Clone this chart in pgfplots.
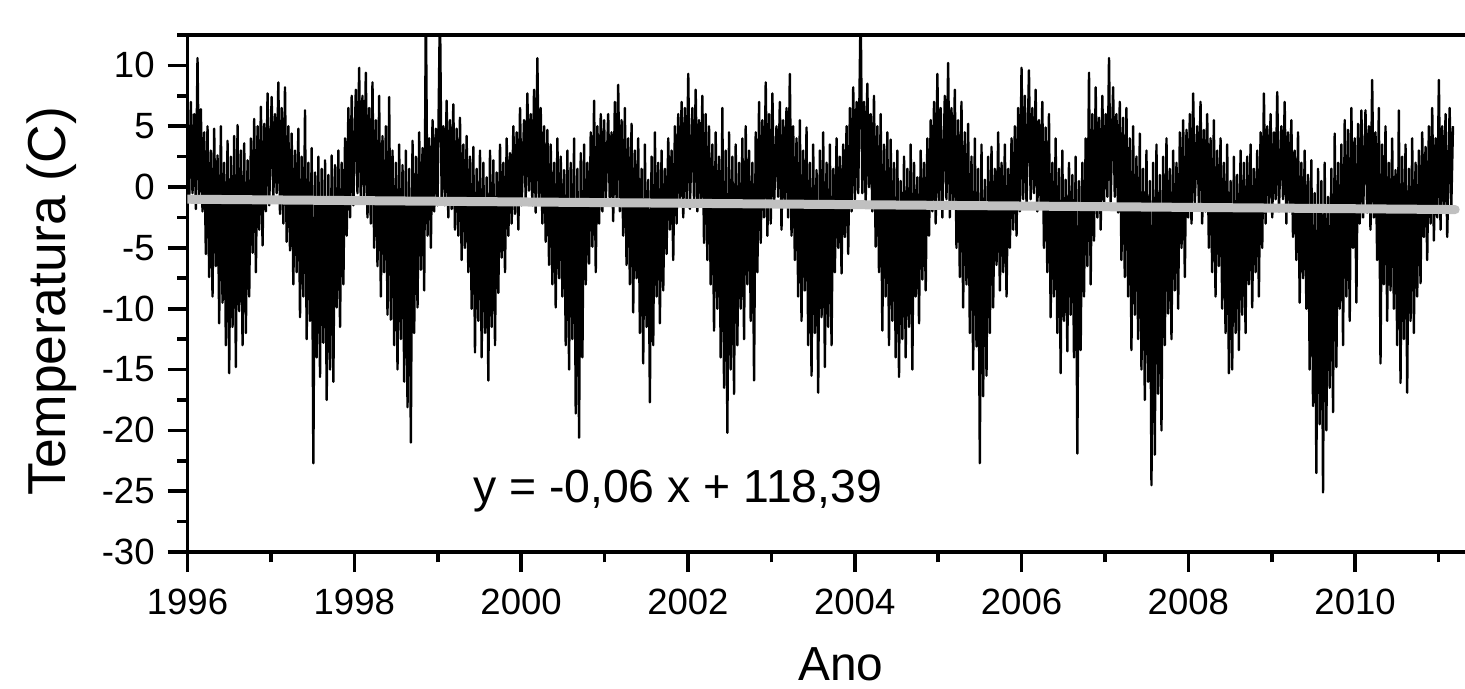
\documentclass[border=0pt]{standalone}
\usepackage{fontspec}
\setmainfont{Liberation Sans}
\usepackage{pgfplots}
\pgfplotsset{compat=1.18}
\definecolor{trendgray}{RGB}{192,192,192}

\begin{document}
\begin{tikzpicture}
\begin{axis}[
    scale only axis,
    width=326.625mm, height=129.25mm,
    xmin=1996, xmax=2011.665,
    ymin=-30, ymax=12.5,
    xtick={1996,1998,...,2010},
    minor xtick={1997,1999,...,2011},
    ytick={-30,-25,...,10},
    minor ytick={-27.5,-22.5,...,12.5},
    tick pos=left,
    tick align=outside,
    major tick length=5mm,
    minor tick length=2.6mm,
    every tick/.style={black, line width=0.9mm},
    axis line style={line width=0.9mm},
    /pgf/number format/assume math mode=true,
    /pgf/number format/1000 sep={},
    tick label style={font=\fontsize{26}{31}\selectfont},
    xticklabel style={yshift=-3.1mm},
    yticklabel style={xshift=-2mm},
    xlabel={Ano},
    ylabel={Temperatura (C)},
    xlabel style={at={(axis description cs:0.5,-0.248)}, anchor=base,
        font=\fontsize{34}{41}\selectfont},
    ylabel style={at={(axis description cs:-0.093,0.485)}, anchor=base,
        rotate=0, font=\fontsize{38}{45}\selectfont},
]
% daily temperature (envelope)
\addplot[black, line width=0.6mm, line join=round] coordinates {
(1996.00,4.5) (1996.02,-1.2) (1996.04,7.0) (1996.06,-0.5) (1996.08,6.0) (1996.10,-1.8) (1996.12,10.6) (1996.14,-1.0) (1996.16,6.4) (1996.18,-2.0)
(1996.20,4.5) (1996.22,-5.5) (1996.24,5.0) (1996.26,-7.4) (1996.28,3.0) (1996.30,-9.0) (1996.32,4.8) (1996.34,-6.5) (1996.36,2.6) (1996.38,-11.2)
(1996.40,5.0) (1996.42,-9.5) (1996.44,2.0) (1996.46,-13.0) (1996.48,3.8) (1996.50,-15.3) (1996.52,2.5) (1996.54,-11.5) (1996.56,4.2) (1996.58,-14.8)
(1996.60,5.1) (1996.62,-10.2) (1996.64,3.0) (1996.66,-13.0) (1996.68,3.6) (1996.70,-12.0) (1996.72,2.2) (1996.74,-9.0) (1996.76,4.0) (1996.78,-5.4)
(1996.80,5.6) (1996.82,-7.0) (1996.84,5.0) (1996.86,-3.5) (1996.88,6.6) (1996.90,-4.8) (1996.92,5.2) (1996.94,-2.0) (1996.96,7.7) (1996.98,-1.5)
(1997.009,7.4) (1997.029,-1.0) (1997.049,6.0) (1997.069,-0.5) (1997.089,8.6) (1997.109,-2.2) (1997.129,6.5) (1997.149,-3.0) (1997.169,8.2) (1997.189,-4.5)
(1997.209,5.0) (1997.229,-5.2) (1997.249,4.4) (1997.269,-8.0) (1997.289,3.0) (1997.309,-7.0) (1997.329,4.8) (1997.349,-10.7) (1997.369,2.5) (1997.389,-9.0)
(1997.409,6.3) (1997.429,-12.5) (1997.449,2.0) (1997.469,-11.0) (1997.489,3.2) (1997.509,-22.7) (1997.529,1.2) (1997.549,-14.0) (1997.569,2.5) (1997.589,-15.6)
(1997.609,1.5) (1997.629,-12.8) (1997.649,2.2) (1997.669,-17.5) (1997.689,1.0) (1997.709,-15.0) (1997.729,2.6) (1997.749,-16.0) (1997.769,1.8) (1997.789,-9.9)
(1997.809,3.0) (1997.829,-11.5) (1997.849,2.0) (1997.869,-8.0) (1997.889,4.0) (1997.909,-4.0) (1997.929,6.5) (1997.949,-2.5) (1997.969,7.5) (1997.989,-1.5)
(1998.018,8.0) (1998.038,-0.5) (1998.058,9.8) (1998.078,-1.2) (1998.098,7.5) (1998.118,-0.8) (1998.138,9.4) (1998.158,-2.5) (1998.178,6.5) (1998.198,-3.0)
(1998.218,8.6) (1998.238,-5.0) (1998.258,5.5) (1998.278,-6.5) (1998.298,7.5) (1998.318,-9.0) (1998.338,4.2) (1998.358,-7.0) (1998.378,5.0) (1998.398,-10.5)
(1998.418,7.4) (1998.438,-10.9) (1998.458,3.0) (1998.478,-13.0) (1998.498,2.0) (1998.518,-15.0) (1998.538,3.5) (1998.558,-12.5) (1998.578,1.8) (1998.598,-16.0)
(1998.618,3.0) (1998.638,-18.1) (1998.658,1.5) (1998.678,-21.0) (1998.698,3.8) (1998.718,-12.0) (1998.738,2.5) (1998.758,-9.9) (1998.778,4.5) (1998.798,-6.8)
(1998.818,3.2) (1998.838,-8.5) (1998.858,15) (1998.878,-4.0) (1998.898,4.0) (1998.918,-5.0) (1998.938,5.5) (1998.958,-2.0) (1998.978,4.8) (1998.998,-1.5)
(1999.027,15) (1999.047,-0.8) (1999.067,5.0) (1999.087,-1.5) (1999.107,7.1) (1999.127,-2.5) (1999.147,5.5) (1999.167,-1.8) (1999.187,6.8) (1999.207,-3.5)
(1999.227,4.8) (1999.247,-4.0) (1999.267,5.7) (1999.287,-6.0) (1999.307,3.5) (1999.327,-5.0) (1999.347,4.2) (1999.367,-7.0) (1999.387,2.5) (1999.407,-10.0)
(1999.427,3.3) (1999.447,-13.6) (1999.467,1.5) (1999.487,-11.0) (1999.507,3.0) (1999.527,-14.0) (1999.547,2.0) (1999.567,-12.0) (1999.587,0.8) (1999.607,-15.9)
(1999.627,3.0) (1999.647,-11.5) (1999.667,2.2) (1999.687,-13.0) (1999.707,1.2) (1999.727,-8.7) (1999.747,3.5) (1999.767,-5.8) (1999.787,2.0) (1999.807,-7.0)
(1999.827,4.0) (1999.847,-4.0) (1999.867,2.8) (1999.887,-3.0) (1999.907,5.0) (1999.927,-2.2) (1999.947,4.5) (1999.967,-3.5) (1999.987,6.5) (2000.007,-1.5)
(2000.035,5.5) (2000.055,-1.0) (2000.075,7.7) (2000.095,-0.3) (2000.115,6.0) (2000.135,-1.5) (2000.155,8.0) (2000.175,-2.1) (2000.195,10.6) (2000.215,-1.2)
(2000.235,6.5) (2000.255,-3.0) (2000.275,5.0) (2000.295,-4.5) (2000.315,4.7) (2000.335,-6.4) (2000.355,3.5) (2000.375,-8.0) (2000.395,2.0) (2000.415,-9.9)
(2000.435,4.0) (2000.455,-7.5) (2000.475,2.5) (2000.495,-9.0) (2000.515,1.4) (2000.535,-13.0) (2000.555,3.0) (2000.575,-15.0) (2000.595,2.0) (2000.615,-12.5)
(2000.635,4.0) (2000.655,-18.6) (2000.675,1.5) (2000.695,-20.6) (2000.715,2.8) (2000.735,-14.0) (2000.755,3.5) (2000.775,-8.0) (2000.795,2.0) (2000.815,-6.3)
(2000.835,4.5) (2000.855,-4.9) (2000.875,7.1) (2000.895,-7.0) (2000.915,5.0) (2000.935,-3.0) (2000.955,6.0) (2000.975,-2.0) (2000.995,5.5) (2001.015,-1.2)
(2001.044,6.0) (2001.064,-1.5) (2001.084,4.5) (2001.104,-2.8) (2001.124,7.0) (2001.144,-1.0) (2001.164,8.4) (2001.184,-2.0) (2001.204,5.5) (2001.224,-4.0)
(2001.244,6.5) (2001.264,-6.4) (2001.284,4.0) (2001.304,-8.0) (2001.324,5.2) (2001.344,-10.3) (2001.364,3.0) (2001.384,-7.5) (2001.404,4.0) (2001.424,-12.0)
(2001.444,1.5) (2001.464,-14.5) (2001.484,3.5) (2001.504,-11.5) (2001.524,0.6) (2001.544,-17.7) (2001.564,2.5) (2001.584,-13.0) (2001.604,4.5) (2001.624,-9.0)
(2001.644,2.0) (2001.664,-11.2) (2001.684,3.0) (2001.704,-8.5) (2001.724,1.5) (2001.744,-5.5) (2001.764,4.0) (2001.784,-3.5) (2001.804,3.0) (2001.824,-6.0)
(2001.844,5.0) (2001.864,-3.0) (2001.884,6.0) (2001.904,-1.5) (2001.924,7.0) (2001.944,-2.5) (2001.964,6.5) (2001.984,-1.0) (2002.004,9.3) (2002.024,-1.8)
(2002.053,6.5) (2002.073,-1.0) (2002.093,8.0) (2002.113,-2.0) (2002.133,5.5) (2002.153,-1.5) (2002.173,7.5) (2002.193,-4.6) (2002.213,6.0) (2002.233,-6.0)
(2002.253,5.0) (2002.273,-8.0) (2002.293,3.5) (2002.313,-11.8) (2002.333,4.5) (2002.353,-10.0) (2002.373,2.5) (2002.393,-14.0) (2002.413,6.5) (2002.433,-16.5)
(2002.453,3.0) (2002.473,-20.2) (2002.493,4.5) (2002.513,-15.0) (2002.533,2.5) (2002.553,-17.0) (2002.573,3.5) (2002.593,-13.0) (2002.613,2.0) (2002.633,-10.0)
(2002.653,4.0) (2002.673,-12.5) (2002.693,5.0) (2002.713,-8.0) (2002.733,3.0) (2002.753,-11.0) (2002.773,2.0) (2002.793,-15.9) (2002.813,4.5) (2002.833,-7.0)
(2002.853,7.0) (2002.873,-4.6) (2002.893,5.5) (2002.913,-2.5) (2002.933,8.6) (2002.953,-4.0) (2002.973,6.0) (2002.993,-3.0) (2003.013,7.7) (2003.033,-1.5)
(2003.062,5.0) (2003.082,-0.8) (2003.102,7.0) (2003.122,-3.5) (2003.142,5.5) (2003.162,-1.5) (2003.182,6.5) (2003.202,-2.5) (2003.222,9.3) (2003.242,-4.0)
(2003.262,5.0) (2003.282,-6.0) (2003.302,4.0) (2003.322,-9.0) (2003.342,5.5) (2003.362,-11.0) (2003.382,3.0) (2003.402,-8.5) (2003.422,4.9) (2003.442,-13.0)
(2003.462,2.0) (2003.482,-15.5) (2003.502,3.5) (2003.522,-12.0) (2003.542,1.4) (2003.562,-16.9) (2003.582,3.0) (2003.602,-10.7) (2003.622,4.5) (2003.642,-14.8)
(2003.662,2.0) (2003.682,-11.5) (2003.702,3.5) (2003.722,-13.0) (2003.742,1.5) (2003.762,-7.0) (2003.782,4.0) (2003.802,-5.0) (2003.822,2.5) (2003.842,-7.1)
(2003.862,3.5) (2003.882,-4.1) (2003.902,5.0) (2003.922,-5.5) (2003.942,6.5) (2003.962,-2.0) (2003.982,8.2) (2004.002,-1.0) (2004.022,7.0) (2004.042,-0.5)
(2004.071,15) (2004.091,-0.5) (2004.111,7.0) (2004.131,-1.5) (2004.151,8.5) (2004.171,0.0) (2004.191,6.0) (2004.211,-2.0) (2004.231,7.5) (2004.251,-4.9)
(2004.271,5.0) (2004.291,-7.0) (2004.311,6.0) (2004.331,-11.8) (2004.351,3.5) (2004.371,-9.0) (2004.391,4.5) (2004.411,-13.0) (2004.431,3.9) (2004.451,-11.0)
(2004.471,2.0) (2004.491,-14.0) (2004.511,3.0) (2004.531,-15.6) (2004.551,0.5) (2004.571,-12.5) (2004.591,2.5) (2004.611,-14.0) (2004.631,1.5) (2004.651,-11.5)
(2004.671,3.5) (2004.691,-15.0) (2004.711,2.0) (2004.731,-9.0) (2004.751,0.8) (2004.771,-11.2) (2004.791,3.0) (2004.811,-7.6) (2004.831,2.0) (2004.851,-8.5)
(2004.871,4.0) (2004.891,-4.0) (2004.911,5.5) (2004.931,-2.0) (2004.951,7.0) (2004.971,-3.0) (2004.991,9.3) (2005.011,-1.5) (2005.031,6.5) (2005.051,-2.5)
(2005.080,7.5) (2005.100,-1.0) (2005.120,10.2) (2005.140,-2.5) (2005.160,6.5) (2005.180,-1.5) (2005.200,8.0) (2005.220,-5.0) (2005.240,5.5) (2005.260,-7.4)
(2005.280,7.0) (2005.300,-9.9) (2005.320,4.5) (2005.340,-8.0) (2005.360,5.2) (2005.380,-12.0) (2005.400,2.5) (2005.420,-15.0) (2005.440,4.0) (2005.460,-13.1)
(2005.480,1.5) (2005.500,-22.7) (2005.520,3.5) (2005.540,-17.2) (2005.560,0.6) (2005.580,-15.5) (2005.600,2.5) (2005.620,-12.0) (2005.640,3.3) (2005.660,-9.9)
(2005.680,1.5) (2005.700,-6.4) (2005.720,4.5) (2005.740,-8.5) (2005.760,2.0) (2005.780,-7.0) (2005.800,3.5) (2005.820,-9.0) (2005.840,1.5) (2005.860,-5.0)
(2005.880,4.0) (2005.900,-3.5) (2005.920,5.0) (2005.940,-4.0) (2005.960,6.5) (2005.980,-2.0) (2006.000,9.8) (2006.020,-1.0) (2006.040,7.5) (2006.060,-1.5)
(2006.089,9.6) (2006.109,-1.0) (2006.129,6.5) (2006.149,-0.5) (2006.169,8.0) (2006.189,-2.0) (2006.209,5.5) (2006.229,-1.5) (2006.249,7.0) (2006.269,-5.0)
(2006.289,4.9) (2006.309,-7.0) (2006.329,6.0) (2006.349,-10.7) (2006.369,2.0) (2006.389,-9.0) (2006.409,4.0) (2006.429,-12.0) (2006.449,1.5) (2006.469,-15.3)
(2006.489,3.0) (2006.509,-11.0) (2006.529,0.6) (2006.549,-13.5) (2006.569,2.0) (2006.589,-10.5) (2006.609,1.0) (2006.629,-14.0) (2006.649,2.5) (2006.669,-21.9)
(2006.689,0.5) (2006.709,-13.4) (2006.729,2.0) (2006.749,-9.0) (2006.769,4.0) (2006.789,-6.5) (2006.809,9.4) (2006.829,-8.0) (2006.849,6.0) (2006.869,-4.4)
(2006.889,8.2) (2006.909,-2.5) (2006.929,5.7) (2006.949,-3.5) (2006.969,7.5) (2006.989,-1.5) (2007.009,6.0) (2007.029,-0.8) (2007.049,10.6) (2007.069,-1.2)
(2007.098,8.2) (2007.118,-0.8) (2007.138,6.0) (2007.158,-2.1) (2007.178,7.0) (2007.198,-6.0) (2007.218,5.7) (2007.238,-7.4) (2007.258,6.5) (2007.278,-9.0)
(2007.298,4.0) (2007.318,-13.4) (2007.338,5.0) (2007.358,-10.5) (2007.378,2.5) (2007.398,-12.5) (2007.418,4.4) (2007.438,-15.0) (2007.458,1.5) (2007.478,-17.5)
(2007.498,3.0) (2007.518,-16.0) (2007.538,0.5) (2007.558,-24.5) (2007.578,2.0) (2007.598,-22.0) (2007.618,3.5) (2007.638,-17.0) (2007.658,1.0) (2007.678,-20.0)
(2007.698,2.5) (2007.718,-13.0) (2007.738,4.0) (2007.758,-10.4) (2007.778,1.5) (2007.798,-12.5) (2007.818,3.0) (2007.838,-8.5) (2007.858,2.0) (2007.878,-10.0)
(2007.898,4.5) (2007.918,-5.0) (2007.938,5.5) (2007.958,-7.4) (2007.978,4.7) (2007.998,-2.5) (2008.018,6.0) (2008.038,-3.0) (2008.058,7.7) (2008.078,-1.3)
(2008.106,5.0) (2008.126,-1.3) (2008.146,7.0) (2008.166,-3.0) (2008.186,4.7) (2008.206,-2.0) (2008.226,6.0) (2008.246,-5.0) (2008.266,4.0) (2008.286,-7.0)
(2008.306,5.5) (2008.326,-9.0) (2008.346,3.0) (2008.366,-6.5) (2008.386,4.0) (2008.406,-10.0) (2008.426,2.0) (2008.446,-12.0) (2008.466,3.5) (2008.486,-15.3)
(2008.506,0.5) (2008.526,-15.0) (2008.546,2.5) (2008.566,-12.0) (2008.586,1.0) (2008.606,-13.4) (2008.626,3.0) (2008.646,-10.5) (2008.666,2.0) (2008.686,-12.0)
(2008.706,2.5) (2008.726,-8.0) (2008.746,3.5) (2008.766,-9.9) (2008.786,1.5) (2008.806,-7.0) (2008.826,3.0) (2008.846,-9.0) (2008.866,4.5) (2008.886,-5.0)
(2008.906,7.7) (2008.926,-3.0) (2008.946,5.0) (2008.966,-1.5) (2008.986,6.0) (2009.006,-2.5) (2009.026,4.5) (2009.046,-1.0) (2009.066,7.8) (2009.086,-2.0)
(2009.115,5.0) (2009.135,-1.0) (2009.155,7.0) (2009.175,-3.0) (2009.195,4.5) (2009.215,-2.0) (2009.235,5.5) (2009.255,-4.1) (2009.275,3.0) (2009.295,-6.0)
(2009.315,4.5) (2009.335,-9.5) (2009.355,2.0) (2009.375,-7.5) (2009.395,3.0) (2009.415,-10.0) (2009.435,1.0) (2009.455,-15.0) (2009.475,2.2) (2009.495,-18.0)
(2009.515,-0.5) (2009.535,-23.5) (2009.555,1.5) (2009.575,-19.5) (2009.595,0.5) (2009.615,-25.1) (2009.635,2.0) (2009.655,-20.0) (2009.675,-0.8) (2009.695,-16.5)
(2009.715,1.5) (2009.735,-18.5) (2009.755,4.4) (2009.775,-14.8) (2009.795,2.0) (2009.815,-10.0) (2009.835,3.5) (2009.855,-13.0) (2009.875,5.5) (2009.895,-9.0)
(2009.915,4.7) (2009.935,-11.0) (2009.955,6.5) (2009.975,-5.0) (2009.995,4.0) (2010.015,-9.5) (2010.035,5.2) (2010.055,-3.0) (2010.075,6.3) (2010.095,-2.5)
(2010.124,6.3) (2010.144,-2.1) (2010.164,5.0) (2010.184,-3.5) (2010.204,8.8) (2010.224,-2.5) (2010.244,4.5) (2010.264,-6.0) (2010.284,6.5) (2010.304,-14.5)
(2010.324,3.5) (2010.344,-8.0) (2010.364,5.0) (2010.384,-11.0) (2010.404,2.0) (2010.424,-8.5) (2010.444,4.0) (2010.464,-10.0) (2010.484,1.4) (2010.504,-13.0)
(2010.524,6.3) (2010.544,-16.1) (2010.564,2.5) (2010.584,-12.5) (2010.604,3.5) (2010.624,-16.9) (2010.644,1.5) (2010.664,-11.0) (2010.684,4.0) (2010.704,-12.0)
(2010.724,2.0) (2010.744,-9.0) (2010.764,3.0) (2010.784,-7.9) (2010.804,4.5) (2010.824,-4.1) (2010.844,3.3) (2010.864,-6.0) (2010.884,5.0) (2010.904,-3.0)
(2010.924,6.5) (2010.944,-4.4) (2010.964,4.0) (2010.984,-2.5) (2011.004,8.8) (2011.024,-3.5) (2011.044,5.0) (2011.064,-2.0) (2011.084,6.0) (2011.104,-4.1)
(2011.133,6.5) (2011.153,-1.5) (2011.173,5.0)
};
% linear fit
\addplot[trendgray, line width=2.25mm, line cap=round] coordinates {
(1996,-1.0) (2011.2,-1.85)
};
\node[anchor=base west, inner sep=0pt, font=\fontsize{33}{40}\selectfont]
    at (axis cs:1999.42,-25.96) {y = -0,06 x + 118,39};
\end{axis}
\pgfresetboundingbox
\path (-46.875mm,-34mm) rectangle (319.375mm,138mm);
\end{tikzpicture}
\end{document}
